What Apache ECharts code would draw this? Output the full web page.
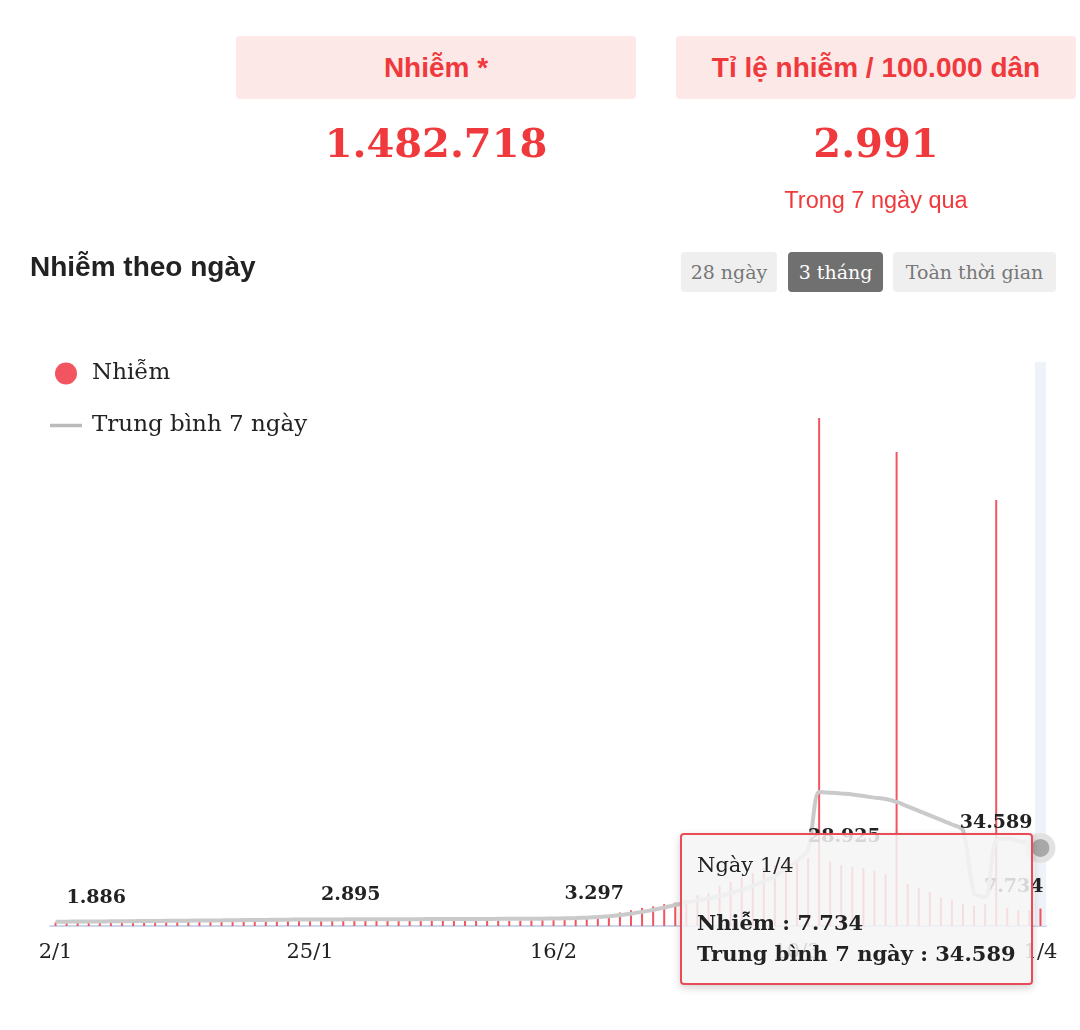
<!DOCTYPE html>
<html>
<head>
<meta charset="utf-8">
<script src="https://cdn.jsdelivr.net/npm/echarts@6.0.0/dist/echarts.min.js"></script>
<style>
  html, body { margin: 0; padding: 0; background: #fff; width: 1080px; height: 1030px; overflow: hidden; }
  #chart { position: absolute; left: 0; top: 0; width: 1080px; height: 1030px; }
  .box { position: absolute; top: 36px; width: 400px; height: 63px; background: #fde8e8; border-radius: 4px;
         color: #f0393c; font: bold 28px "Liberation Sans", Arial, sans-serif; text-align: center; line-height: 64px; }
  .big { position: absolute; top: 118px; width: 400px; text-align: center;
         font: bold 40px "DejaVu Serif", serif; line-height: 50px; color: #f0393c; }
  .sub { position: absolute; top: 186px; left: 676px; width: 400px; text-align: center;
         font: 23.5px "Liberation Sans", Arial, sans-serif; line-height: 28px; color: #f0393c; }
  .title { position: absolute; left: 30px; top: 252px; font: bold 28px "Liberation Sans", Arial, sans-serif; line-height: 30px; color: #222; }
  .btn { position: absolute; top: 252px; height: 40px; text-align: center; border-radius: 4px;
         font: 19px "DejaVu Serif", serif; line-height: 40px; color: #777; background: #efefef; }
  .btn.on { background: #707070; color: #fff; }
</style>
</head>
<body>
<div id="chart"></div>
<div class="box" style="left:236px">Nhiễm *</div>
<div class="box" style="left:676px">Tỉ lệ nhiễm / 100.000 dân</div>
<div class="big" style="left:236px">1.482.718</div>
<div class="big" style="left:676px">2.991</div>
<div class="sub">Trong 7 ngày qua</div>
<div class="title">Nhiễm theo ngày</div>
<div class="btn" style="left:681px;width:96px">28 ngày</div>
<div class="btn on" style="left:788px;width:95px">3 tháng</div>
<div class="btn" style="left:893px;width:163px">Toàn thời gian</div>
<script>
const dates = [
  '2/1','3/1','4/1','5/1','6/1','7/1','8/1','9/1','10/1','11/1','12/1','13/1','14/1','15/1','16/1',
  '17/1','18/1','19/1','20/1','21/1','22/1','23/1','24/1','25/1','26/1','27/1','28/1','29/1','30/1','31/1',
  '1/2','2/2','3/2','4/2','5/2','6/2','7/2','8/2','9/2','10/2','11/2','12/2','13/2','14/2',
  '15/2','16/2','17/2','18/2','19/2','20/2','21/2','22/2','23/2','24/2','25/2','26/2','27/2','28/2',
  '1/3','2/3','3/3','4/3','5/3','6/3','7/3','8/3','9/3','10/3','11/3','12/3','13/3','14/3','15/3','16/3',
  '17/3','18/3','19/3','20/3','21/3','22/3','23/3','24/3','25/3','26/3','27/3','28/3','29/3','30/3','31/3',
  '1/4'
];
const cases = [
  1620,1750,1690,1810,1760,1840,1900,1780,1870,1930,
  1850,1960,2010,1920,2040,1990,2080,2130,2050,2160,
  2110,2200,2170,2230,2150,2260,2190,2280,2210,2300,
  2240,2180,2270,2220,2310,2250,2190,2290,2340,2260,
  2380,2320,2410,2520,2700,2650,2700,2950,3000,3400,
  4100,6000,7000,8000,8700,9700,10400,11500,13700,14500,
  17700,19600,21800,23500,25700,27000,29200,28000,30100,225200,
  28500,27000,26000,25600,24400,23000,210100,18600,17000,15200,
  12600,11600,9700,9000,9700,188800,8000,7100,7100,7734
];
const avg7 = [
  1886,1920,1960,1990,2030,2070,2110,2160,2200,2240,
  2290,2330,2380,2420,2470,2510,2560,2610,2650,2700,
  2760,2810,2850,2895,2910,2930,2940,2960,2970,2990,
  3000,3010,3030,3040,3060,3070,3090,3100,3120,3140,
  3160,3180,3200,3230,3260,3297,3400,3520,3700,3950,
  4350,4850,5450,6250,7150,8200,9300,10400,11300,12200,
  13300,14600,16000,17700,19800,22200,25300,28925,33500,59400,
  59100,58700,58300,57600,56900,56300,55000,53000,51000,49000,
  47000,45000,42500,14600,12800,38100,38800,37700,36500,34589
];
const tickIdx = [0, 23, 45, 67, 89];
const labelIdx = [0, 23, 45, 67, 89];
const seriesNames = ['Nhiễm', 'Trung bình 7 ngày'];

const SERIF = "'DejaVu Serif', serif";
const fmt = v => String(Math.round(v)).replace(/\B(?=(\d{3})+(?!\d))/g, '.');
const lastIdx = cases.length - 1;
const valueLabel = { color: '#222', fontFamily: SERIF, fontWeight: 'bold', fontSize: 19, opacity: 1,
                     formatter: p => fmt(p.value) };

const lineData = avg7.map((v, i) => {
  if (!labelIdx.includes(i)) return v;
  const last = i === lastIdx;
  return { value: v, label: { show: true, position: 'inside', align: last ? 'right' : 'left',
           verticalAlign: 'middle', offset: last ? [-8, -25] : [11, -24] } };
});
const barData = cases.map((v, i) => i === lastIdx
  ? { value: v, label: { show: true, position: [4, -21], align: 'right', verticalAlign: 'middle' } }
  : v);

const chart = echarts.init(document.getElementById('chart'));
chart.setOption({
  animation: false,
  grid: { left: 50, right: 34, top: 362, bottom: 104 },
  legend: {
    orient: 'vertical', left: 45, top: 357, itemWidth: 32, itemHeight: 22, itemGap: 29,
    selectedMode: false,
    textStyle: { fontFamily: SERIF, fontSize: 23, color: '#222', padding: [0, 0, 0, 5] },
    data: [
      { name: seriesNames[0], icon: 'circle', itemStyle: { color: '#f2555f', opacity: 1, borderWidth: 0 } },
      { name: seriesNames[1], icon: 'path://M0,0H32V3.5H0Z', itemStyle: { color: '#bbbbbb', opacity: 1, borderWidth: 0 } }
    ]
  },
  tooltip: {
    trigger: 'axis',
    alwaysShowContent: true,
    transitionDuration: 0,
    position: [680, 833],
    backgroundColor: 'rgba(245,245,245,0.86)',
    borderColor: '#ea4c57',
    borderWidth: 2,
    padding: [15, 15, 14, 15],
    extraCssText: 'box-shadow:0 3px 8px rgba(0,0,0,0.18);border-radius:4px;',
    axisPointer: { type: 'shadow', z: 1, shadowStyle: { color: 'rgba(235,240,248,0.8)' } },
    formatter: params => {
      const i = params[0].dataIndex;
      return '<div style="font-family:' + SERIF + ';color:#222;font-size:21px;line-height:31px">' +
        '<div>Ngày ' + dates[i] + '</div>' +
        '<div style="margin-top:26px;font-weight:bold">' + seriesNames[0] + ' : ' + fmt(cases[i]) + '</div>' +
        '<div style="font-weight:bold">' + seriesNames[1] + ' : ' + fmt(avg7[i]) + '</div></div>';
    }
  },
  xAxis: {
    type: 'category', data: dates, boundaryGap: true,
    axisLine: { lineStyle: { color: '#ccd6eb', width: 2 } },
    axisTick: { show: false },
    axisLabel: { interval: i => tickIdx.includes(i), color: '#222', fontFamily: SERIF, fontSize: 21, margin: 16 }
  },
  yAxis: { type: 'value', min: 0, max: 250000, show: false },
  series: [
    {
      name: seriesNames[0], type: 'bar', data: barData, barWidth: 2, z: 2,
      itemStyle: { color: '#f2555f' },
      label: Object.assign({ show: false }, valueLabel),
      emphasis: { disabled: true }
    },
    {
      name: seriesNames[1], type: 'line', data: lineData, smooth: 0.3, z: 3,
      showSymbol: true, showAllSymbol: true, symbol: 'circle', symbolSize: 24,
      lineStyle: { color: '#b8b8b8', width: 4 },
      itemStyle: { color: '#a8a8a8', borderColor: '#e2e2e2', borderWidth: 6, opacity: 0 },
      label: Object.assign({ show: false }, valueLabel),
      emphasis: { scale: false, itemStyle: { opacity: 1, color: '#a8a8a8', borderColor: '#e2e2e2', borderWidth: 6 } }
    }
  ]
});
chart.dispatchAction({ type: 'showTip', seriesIndex: 1, dataIndex: lastIdx });
</script>
</body>
</html>
